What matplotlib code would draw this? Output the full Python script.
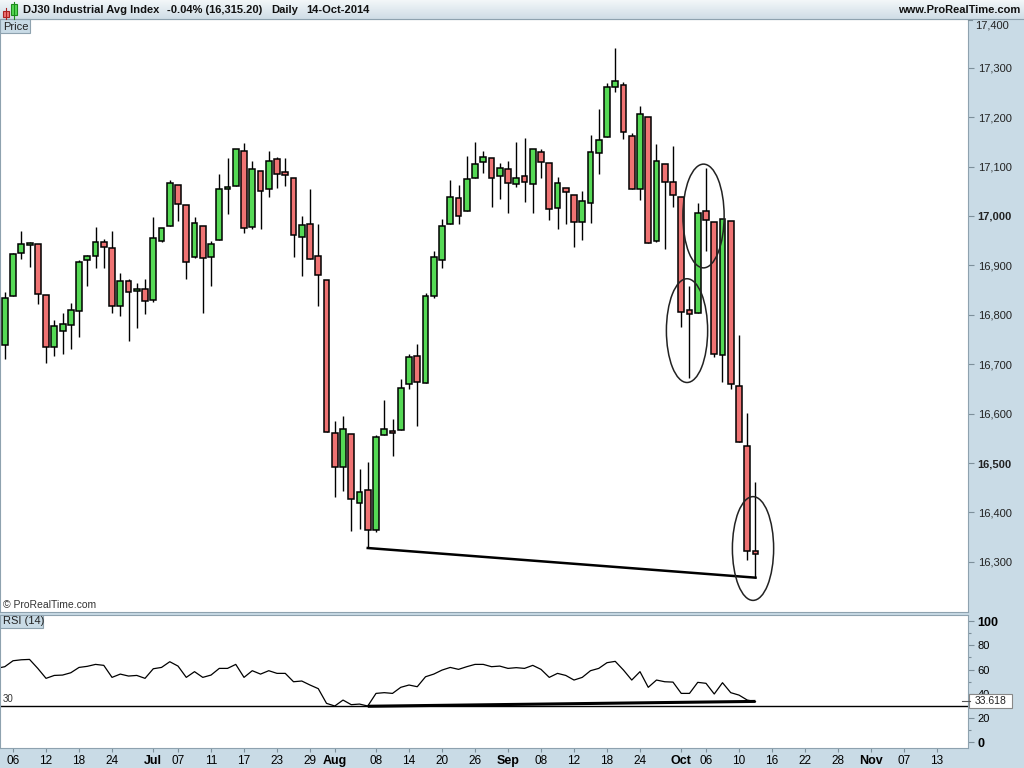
import numpy as np
import pandas as pd
import matplotlib
matplotlib.use('Agg')
import matplotlib.pyplot as plt
from matplotlib.patches import Ellipse, Rectangle
from matplotlib.colors import LinearSegmentedColormap
from matplotlib import font_manager

# ---- data (DJ30 daily, 05-Jun-2014 .. 14-Oct-2014) ----
opens = [16738, 16839, 16926, 16941, 16943, 16841, 16734, 16767, 16779, 16807,
         16910, 16920, 16947, 16935, 16817, 16868, 16848, 16852, 16829, 16949,
         16979, 17062, 17022, 16916, 16979, 16918, 16951, 17054, 17060, 17131,
         16977, 17092, 17054, 17115, 17090, 17076, 16957, 16983, 16920, 16870,
         16560, 16491, 16558, 16420, 16445, 16364, 16556, 16564, 16566, 16660,
         16716, 16662, 16839, 16910, 16983, 17036, 17011, 17076, 17109, 17117,
         17080, 17095, 17064, 17080, 17064, 17129, 17107, 17016, 17056, 17042,
         16987, 17026, 17127, 17159, 17261, 17265, 17161, 17054, 17200, 16949,
         17105, 17068, 17038, 16809, 16803, 17010, 16987, 16718, 16989, 16655,
         16534, 16321]
highs = [16846, 16925, 16970, 16947, 16943, 16841, 16790, 16803, 16823, 16910,
         16922, 16978, 16953, 16970, 16884, 16872, 16864, 16872, 16997, 16976,
         17072, 17062, 17022, 16997, 16979, 16949, 17086, 17117, 17136, 17147,
         17111, 17092, 17131, 17119, 17117, 17076, 16999, 17054, 16983, 16870,
         16585, 16595, 16558, 16488, 16502, 16556, 16628, 16589, 16670, 16720,
         16740, 16845, 16930, 16994, 17073, 17063, 17122, 17149, 17131, 17117,
         17107, 17111, 17149, 17157, 17135, 17135, 17107, 17078, 17056, 17042,
         17050, 17163, 17216, 17269, 17341, 17271, 17167, 17222, 17200, 17145,
         17105, 17141, 17038, 16858, 17026, 17097, 16987, 16993, 16989, 16759,
         16601, 16461]
lows = [16710, 16839, 16912, 16897, 16821, 16703, 16717, 16721, 16731, 16756,
        16859, 16895, 16895, 16804, 16798, 16746, 16774, 16802, 16826, 16948,
        16979, 16990, 16873, 16914, 16804, 16859, 16951, 17005, 17060, 16965,
        16973, 16973, 17038, 17056, 17060, 16916, 16878, 16912, 16817, 16562,
        16432, 16444, 16363, 16367, 16330, 16360, 16556, 16515, 16566, 16650,
        16574, 16662, 16835, 16895, 16983, 16983, 17011, 17076, 17088, 17018,
        17034, 17007, 17058, 17028, 17007, 17076, 16991, 16973, 16983, 16937,
        16951, 16985, 17086, 17159, 17250, 17155, 17054, 17032, 16945, 16947,
        16934, 17018, 16776, 16673, 16803, 16930, 16715, 16663, 16649, 16542,
        16303, 16268]
closes = [16835, 16924, 16943, 16945, 16843, 16734, 16777, 16781, 16809, 16906,
          16920, 16947, 16937, 16818, 16868, 16846, 16852, 16827, 16955, 16975,
          17066, 17024, 16906, 16985, 16914, 16943, 17054, 17058, 17135, 16975,
          17096, 17050, 17111, 17084, 17082, 16961, 16981, 16912, 16880, 16562,
          16491, 16568, 16427, 16441, 16364, 16552, 16568, 16560, 16651, 16714,
          16663, 16839, 16918, 16979, 17038, 16999, 17074, 17105, 17119, 17076,
          17097, 17066, 17076, 17068, 17135, 17109, 17014, 17066, 17048, 16987,
          17030, 17129, 17153, 17261, 17273, 17169, 17054, 17206, 16945, 17111,
          17068, 17042, 16805, 16801, 17007, 16991, 16720, 16993, 16659, 16542,
          16321, 16315.2]

# RSI(14), first value is 04-Jun (just left of the window)
rsi = [61.0, 62.4, 67.3, 68.1, 68.4, 61.0, 52.8, 55.2, 55.5, 57.4,
       61.8, 62.7, 64.3, 63.5, 53.6, 56.3, 54.7, 55.2, 52.8, 60.7,
       61.8, 66.5, 62.9, 53.6, 58.3, 53.6, 55.5, 61.0, 61.0, 64.3,
       53.6, 59.1, 56.3, 59.1, 56.9, 56.9, 50.0, 50.6, 47.3, 44.3,
       32.2, 30.0, 34.9, 31.1, 31.6, 30.0, 40.4, 41.0, 40.4, 45.4,
       47.3, 45.9, 54.1, 56.3, 59.6, 61.8, 60.2, 62.4, 64.3, 64.3,
       62.4, 62.9, 61.0, 61.6, 61.0, 63.5, 60.2, 53.6, 56.9, 55.2,
       51.4, 53.6, 59.1, 61.0, 65.7, 66.8, 59.6, 51.4, 58.3, 45.4,
       51.4, 50.0, 49.7, 40.4, 40.4, 49.5, 48.7, 39.9, 49.2, 41.0,
       39.0, 34.9, 33.6]

tick_dates = ['2014-06-06', '2014-06-12', '2014-06-18', '2014-06-24', '2014-07-01',
              '2014-07-07', '2014-07-11', '2014-07-17', '2014-07-23', '2014-07-29',
              '2014-08-01', '2014-08-08', '2014-08-14', '2014-08-20', '2014-08-26',
              '2014-09-02', '2014-09-08', '2014-09-12', '2014-09-18', '2014-09-24',
              '2014-10-01', '2014-10-06', '2014-10-10', '2014-10-16', '2014-10-22',
              '2014-10-28', '2014-11-03', '2014-11-07', '2014-11-13']
tick_labels = ['06', '12', '18', '24', 'Jul', '07', '11', '17', '23', '29',
               'Aug', '08', '14', '20', '26', 'Sep', '08', '12', '18', '24',
               'Oct', '06', '10', '16', '22', '28', 'Nov', '07', '13']

# drawn annotations
trend_x = [44, 91]
price_trend = [16328, 16268]
rsi_trend = [29.8, 33.8]
circle_x = [84.7, 82.7, 90.7]
circle_y = [17000, 16768, 16327]

# trading days (Jul 4 and Sep 1 closed)
days = pd.bdate_range('2014-06-05', '2014-11-20')
days = days[~days.isin(pd.to_datetime(['2014-07-04', '2014-09-01']))]
tick_pos = [days.get_loc(pd.Timestamp(d)) for d in tick_dates]

names = {f.name for f in font_manager.fontManager.ttflist}
narrow = 'Liberation Sans Narrow' if 'Liberation Sans Narrow' in names else 'Liberation Sans'
plt.rcParams['font.family'] = ['Liberation Sans', 'DejaVu Sans']

BG = '#c9dbe6'
EDGE = '#8ea2af'
W, H = 1024, 768


def box(x0, y0, x1, y1):
    return [x0 / W, 1 - y1 / H, (x1 - x0) / W, (y1 - y0) / H]


fig = plt.figure(figsize=(10.24, 7.68), dpi=100, facecolor=BG)
ax = fig.add_axes(box(0, 19, 968, 612))
ax2 = fig.add_axes(box(0, 615, 968, 748), sharex=ax)

o = np.array(opens, float)
h = np.array(highs, float)
l = np.array(lows, float)
c = np.array(closes, float)
x = np.arange(len(o))
up = c >= o
cols = np.where(up, '#55d955', '#ef7373')

ax.vlines(x, l, h, color='black', lw=1.0, zorder=1)
ax.bar(x, np.maximum(np.abs(c - o), 0.8), bottom=np.minimum(o, c), width=0.72,
       color=cols, edgecolor='black', linewidth=1.1, zorder=2)

ax.plot(trend_x, price_trend, color='black', lw=1.8, zorder=3)
for cx, cy in zip(circle_x, circle_y):
    ax.add_patch(Ellipse((cx, cy), 5.0, 210, fill=False, ec='#222222', lw=1.1, zorder=4))

ax.set_xlim(-0.58, 116.76)
ax.set_ylim(16198.5, 17398.7)
ax.yaxis.tick_right()
ax.set_yticks(np.arange(16300, 17400, 100))
ax.set_yticklabels(['{:,}'.format(v) for v in range(16300, 17400, 100)])
ax.tick_params(axis='y', direction='out', length=4, width=0.8, color='#7d8f9a',
               labelsize=8, pad=3, labelcolor='#222222')
ax.tick_params(axis='x', bottom=False, labelbottom=False)
for t in ax.get_yticklabels():
    if t.get_text() in ('17,000', '16,500'):
        t.set_fontweight('bold')
for s in ax.spines.values():
    s.set_color(EDGE)

# RSI panel
ax2.plot(np.arange(-1, len(rsi) - 1), rsi, color='black', lw=0.9)
ax2.axhline(30, color='black', lw=1.0)
ax2.plot(trend_x, rsi_trend, color='black', lw=2.2, solid_capstyle='butt')
ax2.set_ylim(-4.6, 105)
ax2.yaxis.tick_right()
ax2.set_yticks([0, 20, 40, 60, 80, 100])
ax2.set_yticks([10, 30, 50, 70, 90], minor=True)
ax2.tick_params(axis='y', which='both', direction='out', length=4, width=0.8,
                color='#7d8f9a', labelsize=8, pad=3)
ax2.tick_params(axis='y', which='minor', length=2)
for t in ax2.get_yticklabels():
    if t.get_text() in ('0', '100'):
        t.set_fontweight('bold')
        t.set_fontsize(9)
    else:
        t.set_family(narrow)
ax2.set_xticks(tick_pos)
ax2.set_xticklabels(tick_labels)
ax2.tick_params(axis='x', direction='out', length=3, width=0.8, color='#7d8f9a',
                labelsize=8.5, pad=2)
for t in ax2.get_xticklabels():
    t.set_family(narrow)
    if t.get_text().isalpha():
        t.set_fontweight('bold')
        t.set_fontsize(9)
for s in ax2.spines.values():
    s.set_color(EDGE)

# overlay in pixel coordinates for header and labels
ov = fig.add_axes([0, 0, 1, 1], zorder=10)
ov.patch.set_alpha(0)
grad = LinearSegmentedColormap.from_list('hdr', ['#f3f7f9', '#cfdde6'])
ov.imshow(np.linspace(0, 1, 30).reshape(-1, 1), cmap=grad, aspect='auto',
          extent=(0, W, 19, 0))
ov.plot([0, W], [19, 19], color=EDGE, lw=0.8)
ov.set_xlim(0, W)
ov.set_ylim(H, 0)
ov.axis('off')

# little candle icon
ov.plot([6, 6], [8, 19], color='#aa2222', lw=0.8)
ov.add_patch(Rectangle((3, 10.5), 6, 6, fc='#ef7373', ec='#aa2222', lw=0.8))
ov.plot([14, 14], [2, 19], color='#1c8a1c', lw=0.8)
ov.add_patch(Rectangle((11, 4), 6, 11, fc='#55d955', ec='#1c8a1c', lw=0.8))

hdr = dict(fontsize=8, fontweight='bold', va='center', color='#111111')
ov.text(23, 10, 'DJ30 Industrial Avg Index', **hdr)
ov.text(167, 10, '-0.04% (16,315.20)', **hdr)
ov.text(271, 10, 'Daily', **hdr)
ov.text(306, 10, '14-Oct-2014', **hdr)
ov.text(1020, 10, 'www.ProRealTime.com', ha='right', **hdr)

ov.add_patch(Rectangle((0, 19), 30, 14, fc=BG, ec=EDGE, lw=0.8))
ov.text(3, 26.5, 'Price', fontsize=8, va='center', color='#222222')
ov.add_patch(Rectangle((0, 615), 43, 13, fc=BG, ec=EDGE, lw=0.8))
ov.text(3, 621.5, 'RSI (14)', fontsize=8, va='center', family=narrow, color='#222222')
ov.text(3, 605, '\u00a9 ProRealTime.com', fontsize=7.5, va='center', family=narrow,
        color='#333333')
ov.text(3, 699, '30', fontsize=7, va='center', family=narrow, color='#333333')
ov.text(975, 26, '17,400', fontsize=8, va='center', color='#222222')
ov.plot([968, 972], [20, 20], color='#7d8f9a', lw=0.8)

ov.plot([962, 970], [701, 701], color='#555555', lw=0.8)
ov.add_patch(Rectangle((969, 694), 43, 14, fc='white', ec='#888888', lw=0.8))
ov.text(990.5, 701, '33.618', fontsize=7.5, ha='center', va='center', color='#222222')

fig.savefig('out.png', dpi=100, facecolor=BG)
